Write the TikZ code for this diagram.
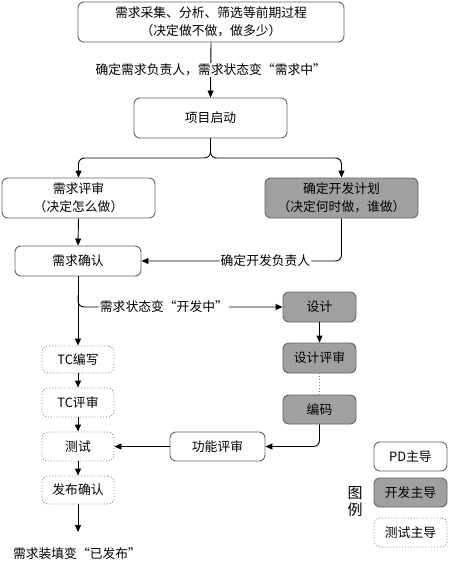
\documentclass[tikz,border=0pt]{standalone}
\usepackage{fontspec}
\setmainfont{Noto Sans CJK SC}
\usetikzlibrary{arrows.meta}
\definecolor{devgray}{RGB}{160,160,160}
\definecolor{bordergray}{RGB}{100,100,100}
\begin{document}
\begin{tikzpicture}[x=1pt,y=-1pt,
  font=\fontsize{12.8}{18}\selectfont,
  box/.style={draw=bordergray,line width=0.9pt,rounded corners=6pt,fill=white,align=center,inner sep=0pt},
  pdbox/.style={box},
  devbox/.style={box,fill=devgray},
  testbox/.style={box,dotted,draw=gray},
  conn/.style={line width=0.9pt,-{Triangle[length=7pt,width=6pt]}},
  plain/.style={line width=0.9pt},
  lab/.style={fill=white,inner sep=1pt}]
\useasboundingbox (0,0) rectangle (448,568);
% nodes
\node[pdbox,minimum width=266pt,minimum height=40pt] (b1) at (211,22) {需求采集、分析、筛选等前期过程\\（决定做不做，做多少）};
\node[pdbox,minimum width=153pt,minimum height=40pt] (b2) at (210.5,118) {项目启动};
\node[pdbox,minimum width=153pt,minimum height=40pt] (b3) at (78.5,198) {需求评审\\（决定怎么做）};
\node[devbox,minimum width=153pt,minimum height=40pt] (b4) at (341.5,198) {确定开发计划\\（决定何时做，谁做）};
\node[pdbox,minimum width=126pt,minimum height=30pt] (b5) at (78,261) {需求确认};
\node[devbox,minimum width=73pt,minimum height=30pt] (d1) at (319.5,307) {设计};
\node[devbox,minimum width=73pt,minimum height=30pt] (d2) at (319.5,358) {设计评审};
\node[devbox,minimum width=73pt,minimum height=29pt] (d3) at (319.5,409.5) {编码};
\node[pdbox,minimum width=95pt,minimum height=29pt] (fr) at (217.5,446.5) {功能评审};
\node[testbox,minimum width=72pt,minimum height=27pt] (t1) at (78,359.5) {TC编写};
\node[testbox,minimum width=72pt,minimum height=29pt] (t2) at (78,402.5) {TC评审};
\node[testbox,minimum width=72pt,minimum height=29pt] (t3) at (78,446.5) {测试};
\node[testbox,minimum width=72pt,minimum height=28pt] (t4) at (78,490) {发布确认};
\coordinate (endp) at (78,532);
\node (final) at (77,554) {需求装填变“已发布”};
% legend
\node[pdbox,minimum width=73pt,minimum height=29pt] (l1) at (410.5,456.5) {PD主导};
\node[devbox,minimum width=73pt,minimum height=29pt] (l2) at (410.5,492.5) {开发主导};
\node[testbox,minimum width=73pt,minimum height=29pt] (l3) at (410.5,532.5) {测试主导};
\node[font=\fontsize{15}{17}\selectfont,align=center] (leg) at (355,502) {图\\例};
% connectors
\draw[conn] (b1.south) -- node[lab] {确定需求负责人，需求状态变“需求中”} (b2.north);
\draw[conn,rounded corners=6pt] (b2.south) -- (b2.south |- 0,158) -| (b3.north);
\draw[conn,rounded corners=6pt] (b2.south) -- (b2.south |- 0,158) -| (b4.north);
\draw[conn] (b3.south) -- (b5.north);
\draw[conn,rounded corners=6pt] (b4.south) |- node[lab,pos=0.69] {确定开发负责人} (b5.east);
\draw[conn] (b5.south) -- (t1.north);
\draw[conn,rounded corners=6pt] (b5.south |- 0,295) |- node[lab,pos=0.71] {需求状态变“开发中”} (d1.west);
\draw[conn] (d1.south) -- (d2.north);
\draw[plain,dotted,draw=gray] (d2.south) -- (d3.north);
\draw[conn,rounded corners=6pt] (d3.south) |- (fr.east);
\draw[conn] (fr.west) -- (t3.east);
\draw[conn] (t1.south) -- (t2.north);
\draw[conn] (t2.south) -- (t3.north);
\draw[conn] (t3.south) -- (t4.north);
\draw[conn] (t4.south) -- (endp);
\end{tikzpicture}
\end{document}
